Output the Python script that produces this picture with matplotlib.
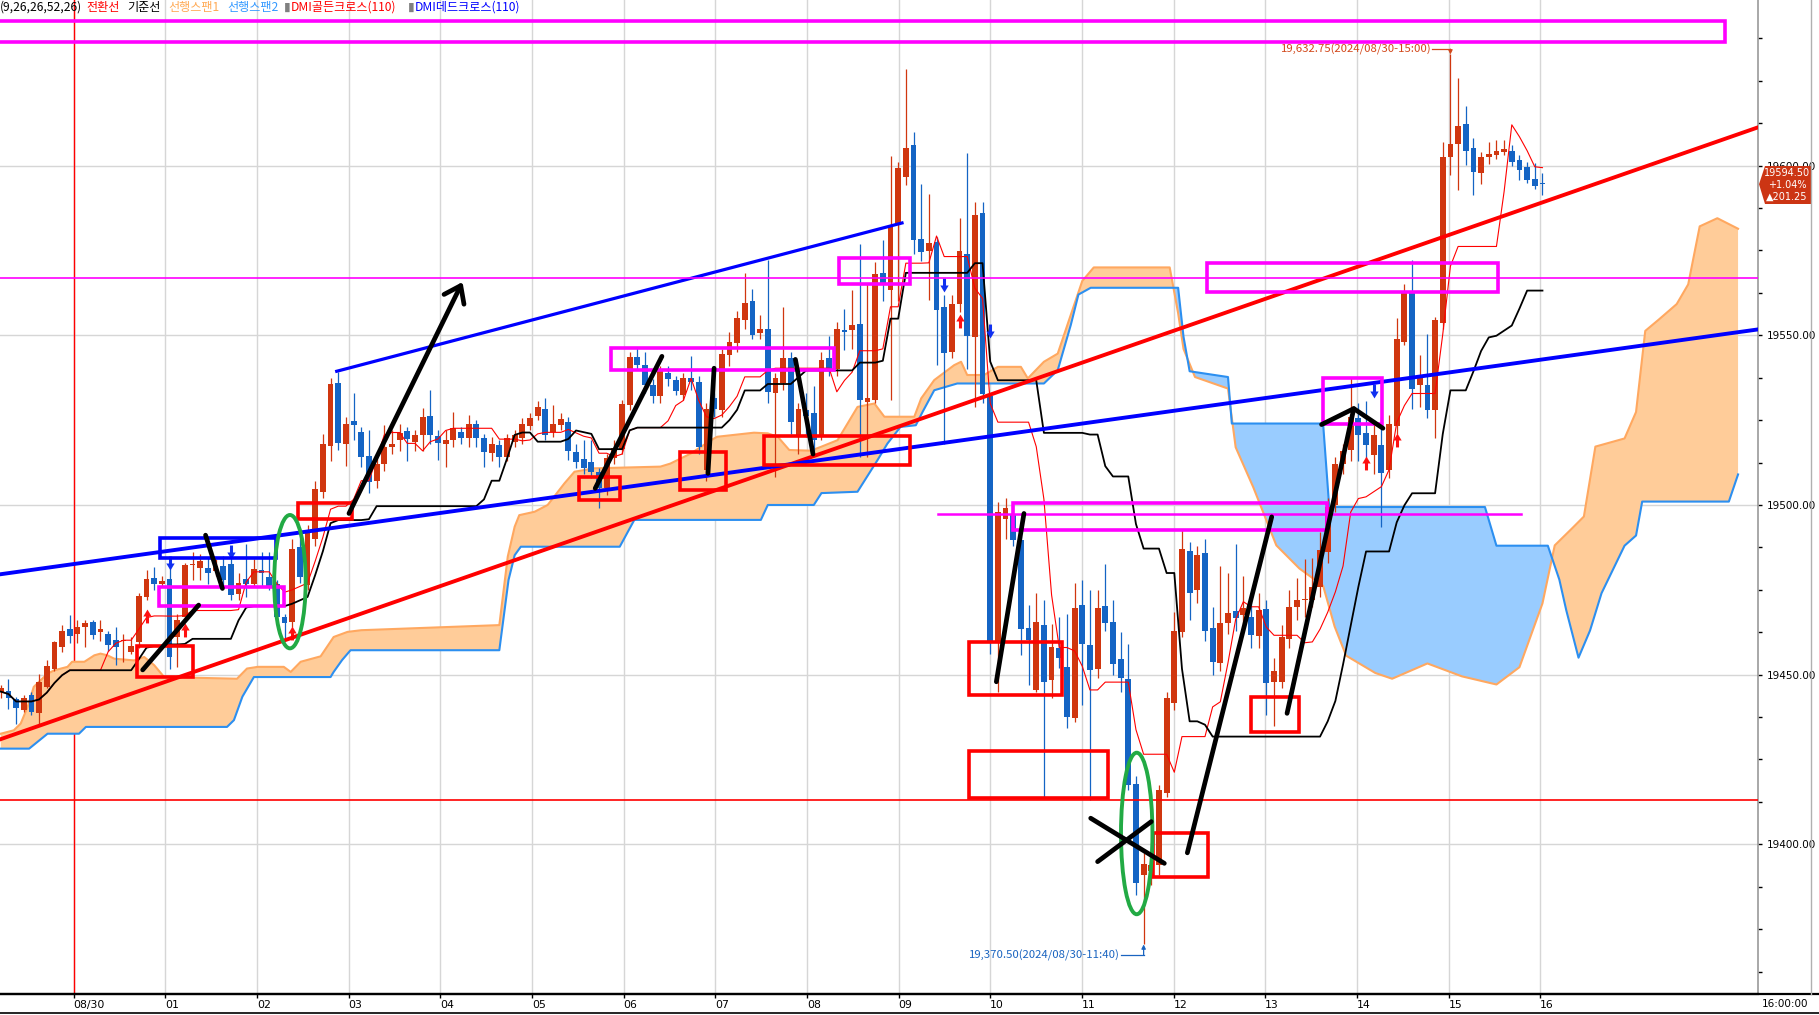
import numpy as np
import pandas as pd
import matplotlib
matplotlib.use('Agg')
import matplotlib.pyplot as plt
from matplotlib.patches import Rectangle, Ellipse, Polygon
from matplotlib.lines import Line2D
from matplotlib.path import Path

plt.rcParams['font.family'] = ['Noto Sans CJK KR', 'DejaVu Sans']

# 5분봉 시가/고가/저가/종가 (08/29 23:15 ~ 08/30 16:00)
opens = [19445, 19445.1, 19442.8, 19439.5, 19444.1, 19438.8, 19446.4, 19451.8, 19458.2, 19463.6,
         19462.1, 19463.9, 19465.6, 19462.6, 19461.9, 19460.3, 19459.8, 19456.7, 19459.7, 19472.9,
         19478.6, 19476.7, 19478.1, 19461.1, 19467, 19482.2, 19481.3, 19481.3, 19480.6, 19482,
         19482.7, 19473.9, 19478.1, 19476.8, 19480.8, 19478.8, 19476.8, 19467, 19465.5, 19487.7,
         19476.4, 19490.1, 19503.9, 19517.5, 19536, 19518.1, 19524.7, 19521.5, 19514.4, 19507.1,
         19512.1, 19517.2, 19519, 19521.8, 19518.6, 19520.6, 19526.2, 19520.3, 19517.9, 19519.1,
         19521.4, 19519.6, 19523.8, 19519.8, 19515.4, 19517.7, 19514.2, 19518.6, 19519.6, 19523.4,
         19526.2, 19528.2, 19521.6, 19523.6, 19524.5, 19515.6, 19513.5, 19512.6, 19509.6, 19504.9,
         19513.7, 19516.4, 19529.4, 19543.5, 19541.2, 19535.3, 19532.1, 19539, 19536.8, 19532.4,
         19537.5, 19536.3, 19510.3, 19531.4, 19528, 19544.2, 19547.6, 19554.5, 19560.1, 19550.8,
         19551.8, 19532.9, 19535.8, 19543.2, 19520.6, 19527.9, 19527.2, 19520.6, 19543.2, 19540.2,
         19551.5, 19551.5, 19553.3, 19530.4, 19530.9, 19568.5, 19563.3, 19582.5, 19596.7, 19606,
         19578.3, 19574.9, 19577.5, 19558.4, 19545.1, 19559.2, 19573.9, 19549.5, 19585.9, 19532,
         19460, 19496, 19497, 19489.6, 19463.8, 19445.4, 19464.6, 19448.4, 19458, 19452.3,
         19437.1, 19470.5, 19458.7, 19451.8, 19470.2, 19465.6, 19454.5, 19448.7, 19417.7, 19391,
         19392, 19393.9, 19415, 19441.7, 19462.6, 19486.5, 19474.9, 19485.9, 19463.8, 19453.5,
         19465.3, 19468.7, 19467.5, 19467.1, 19461.4, 19469.3, 19447.9, 19447.9, 19460.4, 19469.8,
         19471.9, 19472, 19475.9, 19486.2, 19500, 19512, 19516.2, 19525.5, 19521.1, 19514.7,
         19517.6, 19510.3, 19523.3, 19548.1, 19562.8, 19535.3, 19535.3, 19527.9, 19553.5, 19602.4,
         19606.3, 19612.4, 19605.2, 19597.7, 19602.4, 19603.1, 19604.1, 19604.3, 19601.6, 19599.5,
         19596, 19594.5]
highs = [19447, 19448.6, 19443.5, 19444, 19445, 19450.3, 19454.3, 19460, 19464.6, 19467.5,
         19466, 19466.1, 19466.1, 19466, 19463, 19464, 19462, 19461.1, 19474, 19480.8,
         19481.8, 19479, 19482.7, 19468, 19483, 19486, 19485.7, 19484.7, 19484, 19485,
         19485, 19480, 19488.6, 19484, 19486.2, 19486, 19478, 19468, 19490, 19492,
         19494, 19507, 19521, 19537.5, 19539.3, 19526, 19532.9, 19523, 19522, 19514,
         19523.5, 19522, 19524, 19523, 19522, 19528.5, 19533.9, 19522, 19522, 19527.5,
         19523, 19526.5, 19525, 19521, 19520, 19519, 19521, 19522, 19525.5, 19527,
         19530.6, 19531.5, 19529.5, 19527, 19526, 19518, 19519, 19519, 19511, 19515,
         19519, 19531, 19545, 19546.6, 19545, 19537, 19541, 19541, 19538, 19539,
         19543.9, 19538, 19530, 19533, 19546, 19551, 19557.1, 19568.5, 19563.5, 19556,
         19572.3, 19539, 19558.4, 19545, 19530, 19533, 19535, 19545, 19549.7, 19554,
         19557.7, 19563.3, 19576.9, 19565.3, 19571.6, 19578, 19602.8, 19601, 19628.5, 19609.9,
         19594.6, 19591.5, 19579, 19562, 19562, 19584.5, 19603.8, 19589.4, 19589.4, 19533,
         19501, 19502, 19500, 19491, 19470.5, 19474, 19472, 19465, 19467, 19468,
         19477, 19478, 19475, 19475, 19482.6, 19472, 19462.5, 19459, 19420, 19397.5,
         19398, 19417.5, 19445, 19468.5, 19493, 19489, 19488, 19490, 19470, 19482,
         19480, 19488.4, 19479, 19473, 19474, 19472, 19455, 19464.5, 19475, 19478.5,
         19484, 19484.5, 19492, 19502, 19514, 19518, 19537.8, 19530, 19530.6, 19524,
         19526, 19526.4, 19555, 19565, 19572.1, 19544.1, 19550.5, 19555.5, 19607, 19632.75,
         19625.7, 19617.5, 19608, 19604, 19607, 19607.5, 19607.5, 19606, 19603, 19601,
         19600.7, 19597.7]
lows = [19443, 19440, 19435.6, 19439, 19438, 19435.1, 19446, 19451, 19456.7, 19459.2,
        19459.2, 19458.2, 19460.6, 19460, 19457, 19452.8, 19453.8, 19456.2, 19458, 19472,
        19474.9, 19476, 19451.8, 19452.3, 19466, 19478, 19477.8, 19476.8, 19479, 19476,
        19472, 19472, 19472.9, 19476, 19475.9, 19475, 19465, 19460, 19464, 19477,
        19475, 19488, 19502, 19513, 19516.2, 19511.5, 19519, 19511.3, 19503.4, 19505,
        19510, 19515, 19516, 19513, 19516, 19516, 19518, 19513.2, 19511.3, 19517,
        19518, 19517, 19517, 19511.3, 19513, 19511.3, 19513, 19517, 19518, 19522,
        19525, 19519, 19520, 19522, 19513.2, 19511, 19509, 19508, 19499, 19503,
        19512, 19515, 19528, 19540, 19533, 19530, 19530, 19535, 19532.4, 19531,
        19534, 19515, 19507, 19526, 19526, 19541, 19545, 19552, 19549, 19549,
        19530, 19508.3, 19534, 19521, 19515, 19520, 19516, 19519, 19538, 19538,
        19545.6, 19546, 19514, 19514.2, 19530, 19560, 19531, 19560, 19594.3, 19574,
        19572, 19560.3, 19541.1, 19517.9, 19543.4, 19557, 19540, 19529, 19530, 19456,
        19445, 19490, 19488, 19455.7, 19447, 19445, 19414, 19443, 19452, 19434.3,
        19436, 19441, 19413, 19449, 19463, 19450, 19445, 19416, 19385, 19370.5,
        19388, 19391, 19414, 19439.6, 19461, 19466, 19471, 19460, 19450, 19451,
        19462, 19463, 19465, 19458, 19458, 19438, 19434.8, 19446, 19458, 19466,
        19467, 19470, 19473, 19483, 19498, 19509, 19513, 19513, 19512, 19509,
        19493.6, 19508, 19521, 19547, 19528.4, 19528.9, 19525.5, 19519.6, 19552, 19597.2,
        19592.8, 19600.2, 19591.3, 19594.7, 19600.6, 19602, 19603, 19600, 19595.9, 19595,
        19593, 19591.3]
closes = [19446, 19443, 19440.2, 19443, 19439, 19447.7, 19452.5, 19459.5, 19462.8, 19461.4,
          19464.1, 19465.1, 19461.6, 19463.4, 19458.7, 19458.2, 19460, 19458.5, 19473.2, 19478.1,
          19476.7, 19477.5, 19455.2, 19466.1, 19482.4, 19482.6, 19483.4, 19480, 19482.1, 19478,
          19473.4, 19477.1, 19476.8, 19481, 19480, 19476.1, 19467, 19465.2, 19487, 19478.8,
          19492.6, 19504.8, 19518, 19535.6, 19518.3, 19523.8, 19523.7, 19514.2, 19506.9, 19512.1,
          19517.2, 19518, 19521.1, 19519.3, 19520.6, 19526, 19520.6, 19518.3, 19519.1, 19522.6,
          19519.6, 19524, 19519.6, 19515.7, 19518, 19514, 19519.6, 19520.6, 19524, 19525.5,
          19529, 19520.6, 19524, 19525.2, 19515.9, 19512.7, 19510.8, 19509.8, 19504.9, 19513.7,
          19516.7, 19529.9, 19543.5, 19541.2, 19535.3, 19532.1, 19539.8, 19537.1, 19533.6, 19537.5,
          19536.3, 19517.1, 19528.4, 19528.4, 19544.5, 19548.1, 19555, 19559.6, 19550.2, 19551.8,
          19533.3, 19537.5, 19543.2, 19524.5, 19528.4, 19526.3, 19519.1, 19542.7, 19540.2, 19551.8,
          19551, 19553, 19530.9, 19531.4, 19568.2, 19564.8, 19582.2, 19599.4, 19605.3, 19578,
          19574.6, 19577.2, 19557.4, 19544.8, 19559.2, 19574.8, 19549.7, 19585.4, 19532.6, 19460,
          19498, 19499, 19489.6, 19463.6, 19460.2, 19465.6, 19447.9, 19458.2, 19455, 19437.6,
          19469.7, 19459, 19451.5, 19469.7, 19465.1, 19453.1, 19448.9, 19417.4, 19388.7, 19394.2,
          19394, 19416, 19443.2, 19462.8, 19486.9, 19474.1, 19485.2, 19462.9, 19453.8, 19465.3,
          19468.3, 19466.6, 19469.5, 19461.6, 19469, 19447.4, 19451, 19461.2, 19470, 19471.9,
          19472.1, 19475.9, 19486.7, 19499.5, 19512, 19516, 19526, 19520.6, 19517.6, 19520.6,
          19509.5, 19524, 19548.9, 19562.8, 19534.3, 19537.8, 19528.1, 19554.5, 19602.4, 19606.3,
          19611.6, 19604.4, 19598, 19602.4, 19603.4, 19604.4, 19604.8, 19601.1, 19598.7, 19595.9,
          19594.1, 19594.5]

hour_labels = ['08/30', '01', '02', '03', '04', '05', '06', '07', '08',
               '09', '10', '11', '12', '13', '14', '15', '16']

# 선행스팬1 / 선행스팬2 (봉 인덱스, 값) - 26봉 앞으로
span1_idx = [0, 1.7, 2.6, 3.5, 4.3, 6.1, 7.0, 8.7, 9.3, 10.9, 12.2, 13.0, 13.9, 14.8, 17.4, 18.7,
             20.0, 21.3, 30.8, 32.1, 33.5, 36.9, 37.8, 39.1, 41.7, 43.4, 45.2, 47.0, 65.0, 66.1,
             67.0, 67.6, 69.6, 71.3, 73.5, 74.8, 77.4, 86.0, 87.3, 89.1, 90.0, 92.6, 93.4, 98.2,
             100.0, 101.3, 102.8, 105.6, 106.9, 109.1, 111.7, 113.9, 115.2, 119.1, 120.0, 121.7,
             124.3, 125.2, 126.0, 128.2, 130.0, 133.0, 133.9, 136.0, 137.8, 139.5, 141.0, 142.5,
             152.4, 153.5, 154.2, 155.7, 160.0, 161.0, 163.3, 166.3, 169.3, 172.4, 173.9, 175.4,
             179.2, 181.4, 186.0, 190.5, 195.0, 198.0, 201.0, 202.6, 204.9, 206.4, 207.9, 211.7,
             213.2, 214.4, 216.2, 218.5, 220.0, 221.5, 223.8, 226.5]
span1_val = [19432.6, 19433.6, 19435.6, 19440.5, 19446.4, 19450.3, 19451.3, 19452.3, 19453.8,
             19453.8, 19455.7, 19456.2, 19455.7, 19454.7, 19454.2, 19455.2, 19452.8, 19449.3,
             19448.8, 19451.8, 19452.3, 19452.3, 19450.8, 19453.8, 19455.4, 19461.1, 19462.6,
             19463.1, 19464.6, 19484.8, 19493.6, 19497.0, 19498.0, 19500.0, 19506.4, 19509.8,
             19510.8, 19511.3, 19512.2, 19514.2, 19515.2, 19519.1, 19520.1, 19521.3, 19521.1,
             19520.1, 19516.2, 19516.0, 19517.1, 19519.1, 19528.9, 19529.9, 19526.0, 19526.0,
             19531.4, 19536.8, 19541.2, 19542.2, 19538.3, 19538.3, 19540.7, 19540.7, 19537.3,
             19542.2, 19544.6, 19556.0, 19566.0, 19570.0, 19570.0, 19556.5, 19546.0, 19537.7,
             19534.3, 19517.0, 19505.2, 19488.1, 19481.3, 19476.2, 19464.2, 19455.6, 19450.5,
             19448.8, 19453.3, 19449.5, 19447.1, 19452.2, 19471.0, 19488.1, 19493.2, 19496.6,
             19517.2, 19519.6, 19527.4, 19551.3, 19554.7, 19559.2, 19565.0, 19582.1, 19584.5,
             19581.4]
span2_idx = [0, 3.7, 6.1, 10.2, 11.1, 29.5, 30.4, 31.5, 33.0, 43.0, 43.4, 44.5, 45.6, 65.0, 66.2,
             67.0, 67.8, 80.7, 82.6, 99.1, 100.0, 106.0, 107.0, 111.7, 114.3, 115.6, 117.3, 119.3,
             120.2, 121.7, 124.7, 136.0, 137.8, 139.5, 140.5, 142.1, 153.5, 154.2, 155.0, 160.0,
             160.5, 172.4, 173.2, 193.5, 195.0, 201.7, 203.2, 204.1, 205.7, 207.2, 208.7, 211.7,
             213.2, 214.0, 225.3, 226.5]
span2_val = [19428.2, 19428.2, 19432.6, 19432.6, 19434.6, 19434.6, 19436.6, 19443.5, 19449.3,
             19449.3, 19450.8, 19454.3, 19457.2, 19457.2, 19477.9, 19485.2, 19487.7, 19487.7,
             19495.6, 19495.6, 19500.0, 19500.0, 19503.5, 19503.9, 19513.2, 19518.1, 19523.0,
             19523.5, 19527.5, 19533.8, 19535.8, 19535.8, 19539.7, 19553.0, 19562.0, 19564.0,
             19564.0, 19549.6, 19539.4, 19537.7, 19524.0, 19524.0, 19499.4, 19499.4, 19488.0,
             19488.0, 19478.0, 19469.0, 19455.0, 19463.0, 19474.0, 19488.0, 19491.0, 19501.0,
             19501.0, 19509.0]

# DMI 신호
dmi_gold_idx = [19, 24, 38, 125, 178, 182]
dmi_gold_val = [19467.2, 19463.3, 19462.3, 19554.2, 19512.3, 19519.2]
dmi_dead_idx = [22, 30, 123, 129, 179]
dmi_dead_val = [19483.0, 19486.0, 19564.8, 19551.3, 19533.7]

# 작도 (봉 인덱스, 가격)
red_trend = ([0, 229], [19431.0, 19611.2])
blue_trend = ([0, 229], [19479.6, 19551.7])
blue_channel = ([43.8, 117.5], [19539.4, 19583.1])
red_hline = 19413.0
magenta_hline = 19566.8
magenta_seg = ([122.2, 198.2], 19497.3)
red_boxes = [(17.7, 25.1, 19449.2, 19458.5), (38.7, 45.8, 19496.0, 19500.5),
             (75.4, 80.7, 19501.6, 19508.1), (88.5, 94.6, 19504.4, 19515.6),
             (99.5, 118.6, 19511.7, 19520.3), (126.2, 138.4, 19444.0, 19459.7),
             (126.2, 144.4, 19413.7, 19427.5), (150.2, 157.4, 19390.4, 19403.2),
             (163.0, 169.3, 19433.2, 19443.5)]
magenta_boxes = [(-1.0, 224.8, 19636.5, 19642.5), (20.6, 36.9, 19470.2, 19475.7),
                 (79.5, 108.6, 19539.9, 19546.4), (109.3, 118.6, 19565.1, 19572.7),
                 (132.0, 172.9, 19492.6, 19500.6), (157.2, 195.2, 19562.8, 19571.4),
                 (172.4, 180.1, 19524.0, 19537.3)]
blue_boxes = [(20.7, 35.9, 19484.3, 19490.2)]
green_ellipses = [(37.7, 19477.4, 4.1, 39.3), (148.1, 19403.2, 4.1, 47.6)]
black_strokes = [([18.5, 25.8], [19451.4, 19470.5]),
                 ([26.7, 28.9], [19491.1, 19475.4]),
                 ([77.5, 86.2], [19504.9, 19543.8]),
                 ([93.0, 92.2], [19540.3, 19509.3]),
                 ([103.6, 105.9], [19542.9, 19515.0]),
                 ([129.8, 133.4], [19447.9, 19497.5]),
                 ([154.7, 165.7], [19397.5, 19496.5]),
                 ([167.7, 176.4], [19438.6, 19528.4]),
                 ([172.2, 176.4, 180.2], [19523.7, 19528.4, 19522.6]),
                 ([142.1, 151.7], [19407.7, 19394.4]),
                 ([143.0, 150.0], [19394.9, 19406.7])]
black_arrow = ((45.4, 19497.5), (60.2, 19565.7))

RED = '#D0360F'
BLUE = '#1464C4'
W, H = 1819, 1015

o = np.array(opens)
hi_arr = np.array(highs)
lo_arr = np.array(lows)
c = np.array(closes)
idx = np.arange(len(o))

# 일목균형표 전환선 / 기준선
hs = pd.Series(hi_arr)
ls = pd.Series(lo_arr)
tenkan = (hs.rolling(9, min_periods=1).max() + ls.rolling(9, min_periods=1).min()) / 2
kijun = (hs.rolling(26, min_periods=1).max() + ls.rolling(26, min_periods=1).min()) / 2

fig = plt.figure(figsize=(W / 100, H / 100), dpi=100)
ax = fig.add_axes([0, 21 / H, 1758 / W, 994 / H])
ax.set_xlim(-0.1, 229.1)
ax.set_ylim(19355.9, 19648.8)

# 격자
tick_pos = 9.5 + 11.95 * np.arange(len(hour_labels))
for x in tick_pos:
    ax.axvline(x, color='#D6D6D6', lw=1.0, zorder=0)
for y in np.arange(19400, 19601, 50):
    ax.axhline(y, color='#D6D6D6', lw=1.0, zorder=0)
ax.axvline(tick_pos[0], color='red', lw=1.0, zorder=0.5)

# 구름대
xs = np.union1d(span1_idx, span2_idx)
s1 = np.interp(xs, span1_idx, span1_val)
s2 = np.interp(xs, span2_idx, span2_val)
ax.fill_between(xs, s1, s2, where=s1 >= s2, interpolate=True, color='#FFCC99', lw=0, zorder=1)
ax.fill_between(xs, s1, s2, where=s1 < s2, interpolate=True, color='#99CCFF', lw=0, zorder=1)
ax.plot(span1_idx, span1_val, color='#FFA860', lw=1.5, zorder=1.5)
ax.plot(span2_idx, span2_val, color='#2C8FF0', lw=1.5, zorder=1.5)

# 캔들
up = c > o
col = np.where(up, RED, BLUE)
ax.vlines(idx, lo_arr, hi_arr, colors=col, lw=0.9, zorder=3)
ax.bar(idx, np.maximum(np.abs(c - o), 0.3), bottom=np.minimum(o, c), width=0.76,
       color=col, linewidth=0, zorder=3.1)

ax.plot(idx, tenkan, color='#FF0000', lw=0.8, zorder=4)
ax.plot(idx, kijun, color='black', lw=1.3, zorder=4)

# DMI 화살표
arrow_up = Path([(-0.22, -1), (0.22, -1), (0.22, 0), (0.6, 0), (0, 1), (-0.6, 0), (-0.22, 0), (-0.22, -1)],
                [Path.MOVETO] + [Path.LINETO] * 6 + [Path.CLOSEPOLY])
arrow_dn = Path([(x, -y) for x, y in arrow_up.vertices], arrow_up.codes)
ax.scatter(dmi_gold_idx, dmi_gold_val, marker=arrow_up, s=100, color='#FF1010', zorder=5, linewidths=0)
ax.scatter(dmi_dead_idx, dmi_dead_val, marker=arrow_dn, s=100, color='#1030F0', zorder=5, linewidths=0)

# 작도
ax.plot(*red_trend, color='#FF0000', lw=2.8, zorder=6)
ax.plot(*blue_trend, color='#0000FF', lw=2.8, zorder=6)
ax.plot(*blue_channel, color='#0000FF', lw=2.3, zorder=6)
ax.axhline(red_hline, color='#FF0000', lw=1.2, zorder=6)
ax.axhline(magenta_hline, color='#FF00FF', lw=1.2, zorder=6)
ax.plot(magenta_seg[0], [magenta_seg[1]] * 2, color='#FF00FF', lw=1.8, zorder=6)
for x0, x1, y0, y1 in red_boxes:
    ax.add_patch(Rectangle((x0, y0), x1 - x0, y1 - y0, fill=False, ec='#FF0000', lw=2.6, zorder=6))
for x0, x1, y0, y1 in magenta_boxes:
    ax.add_patch(Rectangle((x0, y0), x1 - x0, y1 - y0, fill=False, ec='#FF00FF', lw=2.6, zorder=6))
for x0, x1, y0, y1 in blue_boxes:
    ax.add_patch(Rectangle((x0, y0), x1 - x0, y1 - y0, fill=False, ec='#0000FF', lw=2.6, zorder=6))
for xc, yc, ew, eh in green_ellipses:
    ax.add_patch(Ellipse((xc, yc), ew, eh, fill=False, ec='#22AA44', lw=2.8, zorder=6))
for xsd, ysd in black_strokes:
    ax.plot(xsd, ysd, color='black', lw=3.4, solid_capstyle='round', zorder=6.5)
ax.annotate('', xy=black_arrow[1], xytext=black_arrow[0],
            arrowprops=dict(arrowstyle='->,head_length=0.55,head_width=0.4', lw=3.4,
                            color='black', mutation_scale=20, shrinkA=0, shrinkB=0), zorder=6.5)

# 최고/최저 표시
k_hi = int(np.argmax(hi_arr))
k_lo = int(np.argmin(lo_arr))
y_hi = hi_arr[k_hi] + 1.55
ax.text(k_hi - 2.5, y_hi, f'{hi_arr[k_hi]:,.2f}(2024/08/30-15:00)', ha='right', va='center',
        color='#D2491C', fontsize=8.2, zorder=7)
ax.plot([k_hi - 2.4, k_hi], [y_hi, y_hi], color='#D2491C', lw=0.9, zorder=7)
ax.annotate('', xy=(k_hi, hi_arr[k_hi]), xytext=(k_hi, y_hi),
            arrowprops=dict(arrowstyle='-|>', color='#D2491C', lw=0.9, mutation_scale=6,
                            shrinkA=0, shrinkB=0), zorder=7)
y_lo = lo_arr[k_lo] - 3.1
ax.text(k_lo - 3.1, y_lo, f'{lo_arr[k_lo]:,.2f}(2024/08/30-11:40)', ha='right', va='center',
        color='#1A64C0', fontsize=8.2, zorder=7)
ax.plot([k_lo - 3.0, k_lo], [y_lo, y_lo], color='#1A64C0', lw=0.9, zorder=7)
ax.annotate('', xy=(k_lo, lo_arr[k_lo]), xytext=(k_lo, y_lo),
            arrowprops=dict(arrowstyle='-|>', color='#1A64C0', lw=0.9, mutation_scale=6,
                            shrinkA=0, shrinkB=0), zorder=7)

# 축
for s in ['top', 'left']:
    ax.spines[s].set_visible(False)
ax.spines['right'].set_color('#9A9A9A')
ax.spines['right'].set_linewidth(1.2)
ax.spines['bottom'].set_color('black')
ax.spines['bottom'].set_linewidth(1.6)
ax.yaxis.tick_right()
yt = np.arange(19400, 19601, 50)
ax.set_yticks(yt)
ax.set_yticklabels([f'{v:.2f}' for v in yt], fontsize=7.5, family=['DejaVu Sans'])
ax.set_yticks(np.arange(19362.5, 19648, 12.5), minor=True)
ax.tick_params(axis='y', which='both', direction='out', length=3, width=1, pad=3)
ax.set_xticks(tick_pos)
ax.set_xticklabels(hour_labels, ha='left', fontsize=7.8, family=['DejaVu Sans'])
ax.tick_params(axis='x', direction='out', length=3, width=1, pad=1)

# 하단 라인/시간
fig.add_artist(Line2D([0, 1], [21 / H, 21 / H], color='black', lw=1.6, transform=fig.transFigure))
fig.add_artist(Line2D([0, 1], [2 / H, 2 / H], color='black', lw=1.2, transform=fig.transFigure))
fig.add_artist(Line2D([1811 / W, 1811 / W], [21 / H, 1], color='#B0B0B0', lw=1.0, transform=fig.transFigure))
fig.text(1762 / W, 1 - 1004 / H, '16:00:00', fontsize=7.5, va='center', ha='left', family=['DejaVu Sans'])

# 현재가 태그
yc = 165.5 + (19600 - c[-1]) * 3.394
tag = [(1759, yc), (1765, 166), (1811, 166), (1811, 204), (1765, 204)]
fig.patches.append(Polygon([(x / W, 1 - y / H) for x, y in tag], closed=True, fc='#CC3514', ec='none',
                           transform=fig.transFigure, figure=fig))
chg = c[-1] - 19393.25
fig.text(1787 / W, 1 - 173 / H, f'{c[-1]:.2f}', color='white', fontsize=7, ha='center', va='center',
         family=['DejaVu Sans'])
fig.text(1787 / W, 1 - 185 / H, f'+{chg / 19393.25 * 100:.2f}%', color='white', fontsize=7,
         ha='center', va='center', family=['DejaVu Sans'])
fig.text(1787 / W, 1 - 197 / H, f'▲{chg:.2f}', color='white', fontsize=7, ha='center', va='center',
         family=['DejaVu Sans'])

# 상단 범례
legend_items = [('(9,26,26,52,26)', 'black', 0), ('전환선', '#FF0000', 86), ('기준선', 'black', 127),
                ('선행스팬1', '#FFAA55', 168), ('선행스팬2', '#3399FF', 227),
                ('▮', '#808080', 284), ('DMI골든크로스(110)', '#FF0000', 291),
                ('▮', '#808080', 408), ('DMI데드크로스(110)', '#0000FF', 415)]
for txt, colr, x in legend_items:
    fig.text(x / W, 1 - 11 / H, txt, color=colr, fontsize=8.7, ha='left', va='baseline',
             family=['Noto Sans CJK KR', 'DejaVu Sans'])

fig.savefig('out.png', dpi=100)
